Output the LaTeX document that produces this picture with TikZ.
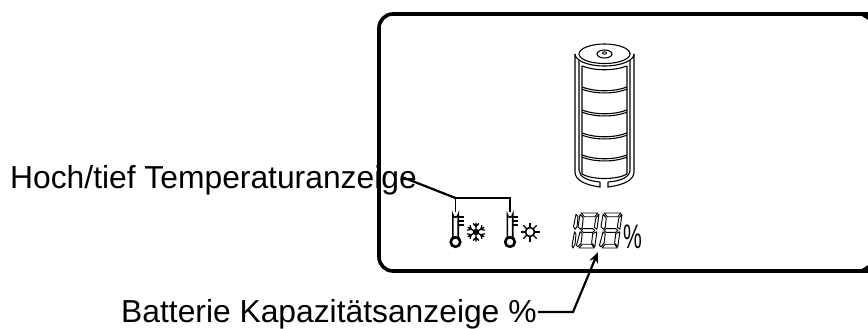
\documentclass[tikz,border=0pt]{standalone}
\usepackage{fontspec}
\usetikzlibrary{arrows.meta}
\setmainfont{Liberation Sans}
\tikzset{
 lbl/.style={inner sep=0pt,anchor=base west,font=\fontsize{31.8}{34}\selectfont},
 frameline/.style={line width=3.6pt,rounded corners=14pt},
 leader/.style={line width=2.2pt},
 thin1/.style={line width=1.1pt},
 thin2/.style={line width=1.6pt},
 seg/.style={line width=0.95pt,line join=round},
}
\newcommand{\thermo}[1]{%
 \begin{scope}[shift={(#1)}]
  % tube and bulb, origin at the bulb centre
  \draw[thin2] (-2.7,-4) -- (-2.7,-27.5) arc[start angle=180,end angle=0,radius=2.7] -- (2.7,-4);
  \draw[line width=2.6pt] (0,0) circle (4.8);
  \draw[thin2] (2.7,-25) -- (8,-25) (2.7,-21) -- (8,-21) (2.7,-17) -- (8,-17);
 \end{scope}}
\newcommand{\digit}[1]{%
 \begin{scope}[shift={(#1)},xscale=1.05,yscale=1.25]
  \draw[seg] (3,0) -- (19,0) -- (16,3) -- (6,3) -- cycle;
  \draw[seg] (2,1) -- (5,4) -- (4,11.5) -- (2.5,13) -- (0,11) -- cycle;
  \draw[seg] (20,1) -- (18,13) -- (15.5,11.5) -- (17,4) -- cycle;
  \draw[seg] (3,14) -- (5,12.5) -- (14,12.5) -- (16,14) -- (14,15.5) -- (5,15.5) -- cycle;
  \draw[seg] (2,15) -- (4,16.5) -- (3,24) -- (0,27) -- (-1.5,26) -- cycle;
  \draw[seg] (18,15) -- (16,27) -- (13,24) -- (14,16.5) -- cycle;
  \draw[seg] (1,28) -- (4,25) -- (13,25) -- (15.5,28) -- cycle;
 \end{scope}}
\begin{document}
\begin{tikzpicture}[x=1pt,y=-1pt]
\useasboundingbox (0,0) rectangle (868,329);
\clip (0,0) rectangle (868,329);
% frame
\draw[frameline] (874,14) -- (379,14) -- (379,271) -- (874,271);
\draw[line width=3.6pt] (862,14) -- (870,19);
\draw[line width=3.6pt] (862,271) -- (870,266);
% battery
\draw[thin1] (575,54) arc[start angle=180,end angle=0,x radius=29.5,y radius=12];
\draw[thin1] (579,54) arc[start angle=180,end angle=360,x radius=25.5,y radius=10];
\draw[thin1] (579,54) arc[start angle=180,end angle=0,x radius=25.5,y radius=9.5];
\draw[thin1] (575,54) -- (575,172) .. controls (575,180) and (585,185) .. (600,187) -- (600,182);
\draw[thin1] (634,54) -- (634,172) .. controls (634,180) and (624,185) .. (608,187) -- (608,182);
\draw[thin1] (600,182) .. controls (588,181) and (579,177) .. (579,170) -- (579,60);
\draw[thin1] (608,182) .. controls (621,181) and (630,177) .. (630,170) -- (630,60);
\draw[thin1] (604.5,54) ellipse[x radius=7.5,y radius=4];
\draw[line width=0.9pt] (604.5,53) ellipse[x radius=2,y radius=1.2];
\draw[thin1] (582,66) .. controls (595,71) and (614,71) .. (627,66);
\draw[thin1] (582,66) -- (582,174) .. controls (592,180) and (617,180) .. (627,174) -- (627,66);
\foreach \yy in {87,110,133,155}{
 \draw[thin1] (582,\yy) .. controls (595,\yy+5) and (614,\yy+5) .. (627,\yy);
 \draw[thin1] (582,\yy+2.2) .. controls (595,\yy+7.2) and (614,\yy+7.2) .. (627,\yy+2.2);
}
% icons
\thermo{455.5,242}
\thermo{510,242}
\begin{scope}[shift={(476,232)}]
 \foreach \a in {0,60,...,300}{
  \draw[line width=1.3pt,rotate=\a] (0,0) -- (0,-9.5) (-2.8,-8.5) -- (0,-5.5) -- (2.8,-8.5);
 }
 \draw[line width=1.2pt] (0,0) circle (2.5);
\end{scope}
\begin{scope}[shift={(530,232)}]
 \draw[thin2] (0,0) circle (4.5);
 \foreach \a in {0,45,...,315}{ \draw[line width=1.3pt,rotate=\a] (0,-4.5) -- (0,-9.5); }
\end{scope}
% digits
\digit{578,213}
\digit{601,213}
\begin{scope}[shift={(572,213)},yscale=1.25]
 \draw[seg] (4,1) -- (6,3) -- (5,11) -- (3,13) -- (1.5,11) -- cycle;
 \draw[seg] (2.5,15) -- (4,17) -- (3,25) -- (1,28) -- (0,26) -- cycle;
\end{scope}
\node[inner sep=0pt,anchor=base west,xscale=0.62,font=\fontsize{34}{36}\selectfont] (pct) at (623,248) {\%};
% labels
\node[lbl] (hoch) at (10,188) {Hoch/tief Temperaturanzeige};
\node[lbl] (batt) at (121,322) {Batterie Kapazitätsanzeige \%};
% leaders
\coordinate (hl) at (402,177);
\coordinate (hj) at (455.5,198);
\coordinate (hr) at (510,198);
\coordinate (t1) at (455.5,212);
\coordinate (t2) at (510,212);
\coordinate (bl) at (538,312);
\coordinate (bk) at (573,312);
\coordinate (ba) at (598,252);
\draw[leader] (hl) -- (hj);
\draw[line width=1.5pt] (t1) -- (hj) -- (hr) -- (t2);
\draw[leader,-{Stealth[length=11pt,width=9pt]}] (bl) -- (bk) -- (ba);
\end{tikzpicture}
\end{document}
